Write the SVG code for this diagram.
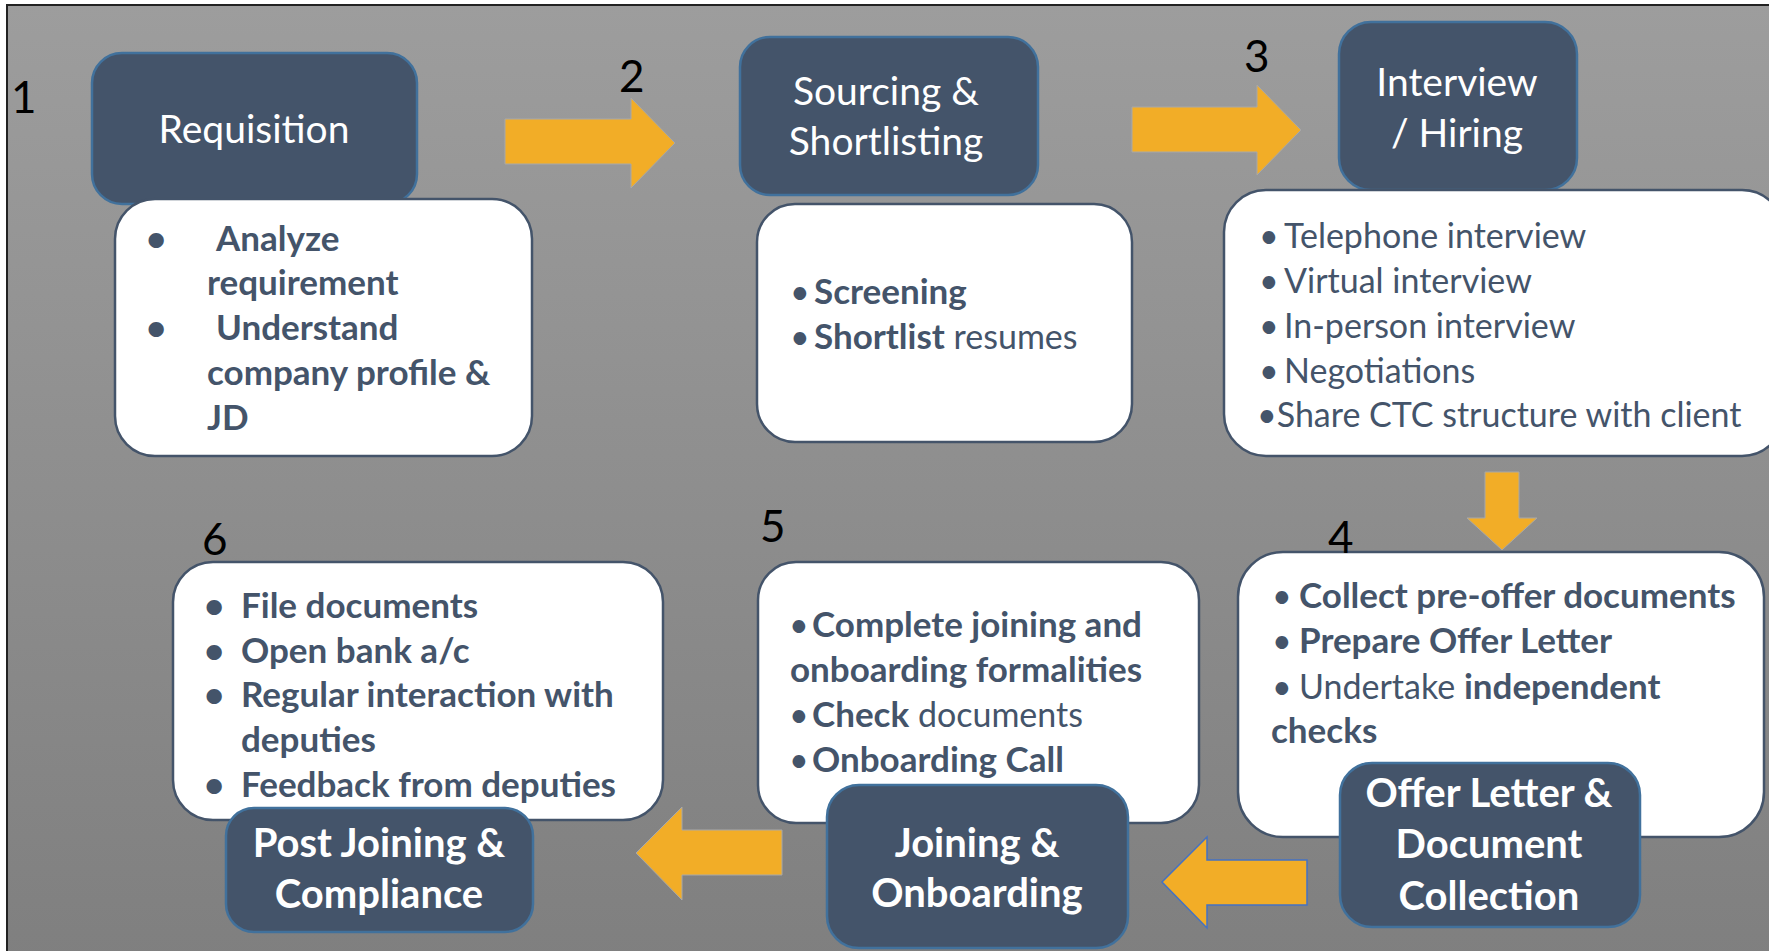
<svg xmlns="http://www.w3.org/2000/svg" width="1769" height="951" viewBox="0 0 1769 951">
<defs>
<linearGradient id="bg" x1="0" y1="0" x2="0" y2="1">
<stop offset="0" stop-color="#9d9d9d"/>
<stop offset="1" stop-color="#7f7f7f"/>
</linearGradient>
<style>
.hd{fill:#44546a;stroke:#41719c;stroke-width:2.5;}
.wb{fill:#ffffff;stroke:#44546a;stroke-width:2.5;}
.ht{font-family:Lato,"Liberation Sans",sans-serif;fill:#ffffff;font-size:39px;text-anchor:middle;}
.hb{font-weight:bold;font-size:40px;}
.bt{font-family:Lato,"Liberation Sans",sans-serif;fill:#44546a;font-size:34px;}
.b{font-weight:bold;font-size:35px;}
.num{font-family:Lato,"Liberation Sans",sans-serif;fill:#000000;font-size:44px;}
.arr{fill:#f2ad27;stroke:#a8a8a8;stroke-width:1;}
.arrb{fill:#f2ad27;stroke:#4472c4;stroke-width:1.5;}
</style>
</defs>
<rect x="0" y="0" width="1769" height="951" fill="#ffffff"/>
<rect x="7" y="5" width="1780" height="960" fill="url(#bg)" stroke="#222222" stroke-width="2"/>

<g id="connectors">
<polygon class="arr" points="505,119 631,119 631,98 675,143 631,188 631,164 505,164"/>
<polygon class="arr" points="1132,107 1257,107 1257,85 1301,130 1257,175 1257,152 1132,152"/>
<polygon class="arr" points="1485,472 1519,472 1519,518 1537,518 1502,550 1467,518 1485,518"/>
<polygon class="arrb" points="1307,860 1207,860 1207,837 1162,882 1207,928 1207,905 1307,905"/>
<polygon class="arr" points="782,830 682,830 682,807 636,853 682,900 682,875 782,875"/>
</g>

<g id="step1">
<text class="num" x="11" y="113">1</text>
<rect class="hd" x="92" y="53" width="325" height="151" rx="30"/>
<text class="ht" x="254" y="143">Requisition</text>
<rect class="wb" x="115" y="199" width="417" height="257" rx="40"/>
<text class="bt b" x="146" y="251">•</text>
<text class="bt b" x="216" y="251">Analyze</text>
<text class="bt b" x="207" y="295">requirement</text>
<text class="bt b" x="146" y="340">•</text>
<text class="bt b" x="216" y="340">Understand</text>
<text class="bt b" x="207" y="385">company profile &amp;</text>
<text class="bt b" x="207" y="430">JD</text>
</g>

<g id="step2">
<text class="num" x="619" y="92">2</text>
<rect class="hd" x="740" y="37" width="298" height="158" rx="30"/>
<text class="ht" x="886" y="105">Sourcing &amp;</text>
<text class="ht" x="886" y="155">Shortlisting</text>
<rect class="wb" x="757" y="204" width="375" height="238" rx="38"/>
<text class="bt" x="790" y="304">•</text>
<text class="bt b" x="814" y="304">Screening</text>
<text class="bt" x="790" y="349">•</text>
<text class="bt" x="814" y="349"><tspan class="b">Shortlist</tspan> resumes</text>
</g>

<g id="step3">
<text class="num" x="1244" y="72">3</text>
<rect class="hd" x="1339" y="22" width="238" height="168" rx="32"/>
<text class="ht" x="1457" y="96">Interview</text>
<text class="ht" x="1457" y="147">/ Hiring</text>
<rect class="wb" x="1224" y="190" width="560" height="266" rx="42"/>
<text class="bt" x="1259" y="248">•</text>
<text class="bt" x="1284" y="248">Telephone interview</text>
<text class="bt" x="1259" y="293">•</text>
<text class="bt" x="1284" y="293">Virtual interview</text>
<text class="bt" x="1259" y="338">•</text>
<text class="bt" x="1284" y="338">In-person interview</text>
<text class="bt" x="1259" y="383">•</text>
<text class="bt" x="1284" y="383">Negotiations</text>
<text class="bt" x="1257" y="427">•Share CTC structure with client</text>
</g>

<g id="step4">
<rect class="wb" x="1238" y="552" width="526" height="285" rx="45"/>
<text class="num" x="1328" y="553">4</text>
<text class="bt" x="1272" y="608">•</text>
<text class="bt b" x="1299" y="608">Collect pre-offer documents</text>
<text class="bt" x="1272" y="653">•</text>
<text class="bt b" x="1299" y="653">Prepare Offer Letter</text>
<text class="bt" x="1272" y="699">•</text>
<text class="bt" x="1299" y="699">Undertake <tspan class="b">independent</tspan></text>
<text class="bt b" x="1271" y="743">checks</text>
<rect class="hd" x="1340" y="763" width="300" height="164" rx="32"/>
<text class="ht hb" x="1489" y="807">Offer Letter &amp;</text>
<text class="ht hb" x="1489" y="858">Document</text>
<text class="ht hb" x="1489" y="910">Collection</text>
</g>

<g id="step5">
<text class="num" x="760" y="542">5</text>
<rect class="wb" x="758" y="562" width="441" height="261" rx="38"/>
<text class="bt" x="789" y="637">•</text>
<text class="bt b" x="812" y="637">Complete joining and</text>
<text class="bt b" x="790" y="682">onboarding formalities</text>
<text class="bt" x="789" y="727">•</text>
<text class="bt" x="812" y="727"><tspan class="b">Check</tspan> documents</text>
<text class="bt" x="789" y="772">•</text>
<text class="bt b" x="812" y="772">Onboarding Call</text>
<rect class="hd" x="827" y="785" width="301" height="163" rx="32"/>
<text class="ht hb" x="977" y="857">Joining &amp;</text>
<text class="ht hb" x="977" y="907">Onboarding</text>
</g>

<g id="step6">
<text class="num" x="202" y="555">6</text>
<rect class="wb" x="173" y="562" width="490" height="258" rx="40"/>
<text class="bt b" x="204" y="618">•</text>
<text class="bt b" x="241" y="618">File documents</text>
<text class="bt b" x="204" y="663">•</text>
<text class="bt b" x="241" y="663">Open bank a/c</text>
<text class="bt b" x="204" y="707">•</text>
<text class="bt b" x="241" y="707">Regular interaction with</text>
<text class="bt b" x="241" y="752">deputies</text>
<text class="bt b" x="204" y="797">•</text>
<text class="bt b" x="241" y="797">Feedback from deputies</text>
<rect class="hd" x="226" y="808" width="307" height="124" rx="28"/>
<text class="ht hb" x="379" y="857">Post Joining &amp;</text>
<text class="ht hb" x="379" y="908">Compliance</text>
</g>
</svg>
